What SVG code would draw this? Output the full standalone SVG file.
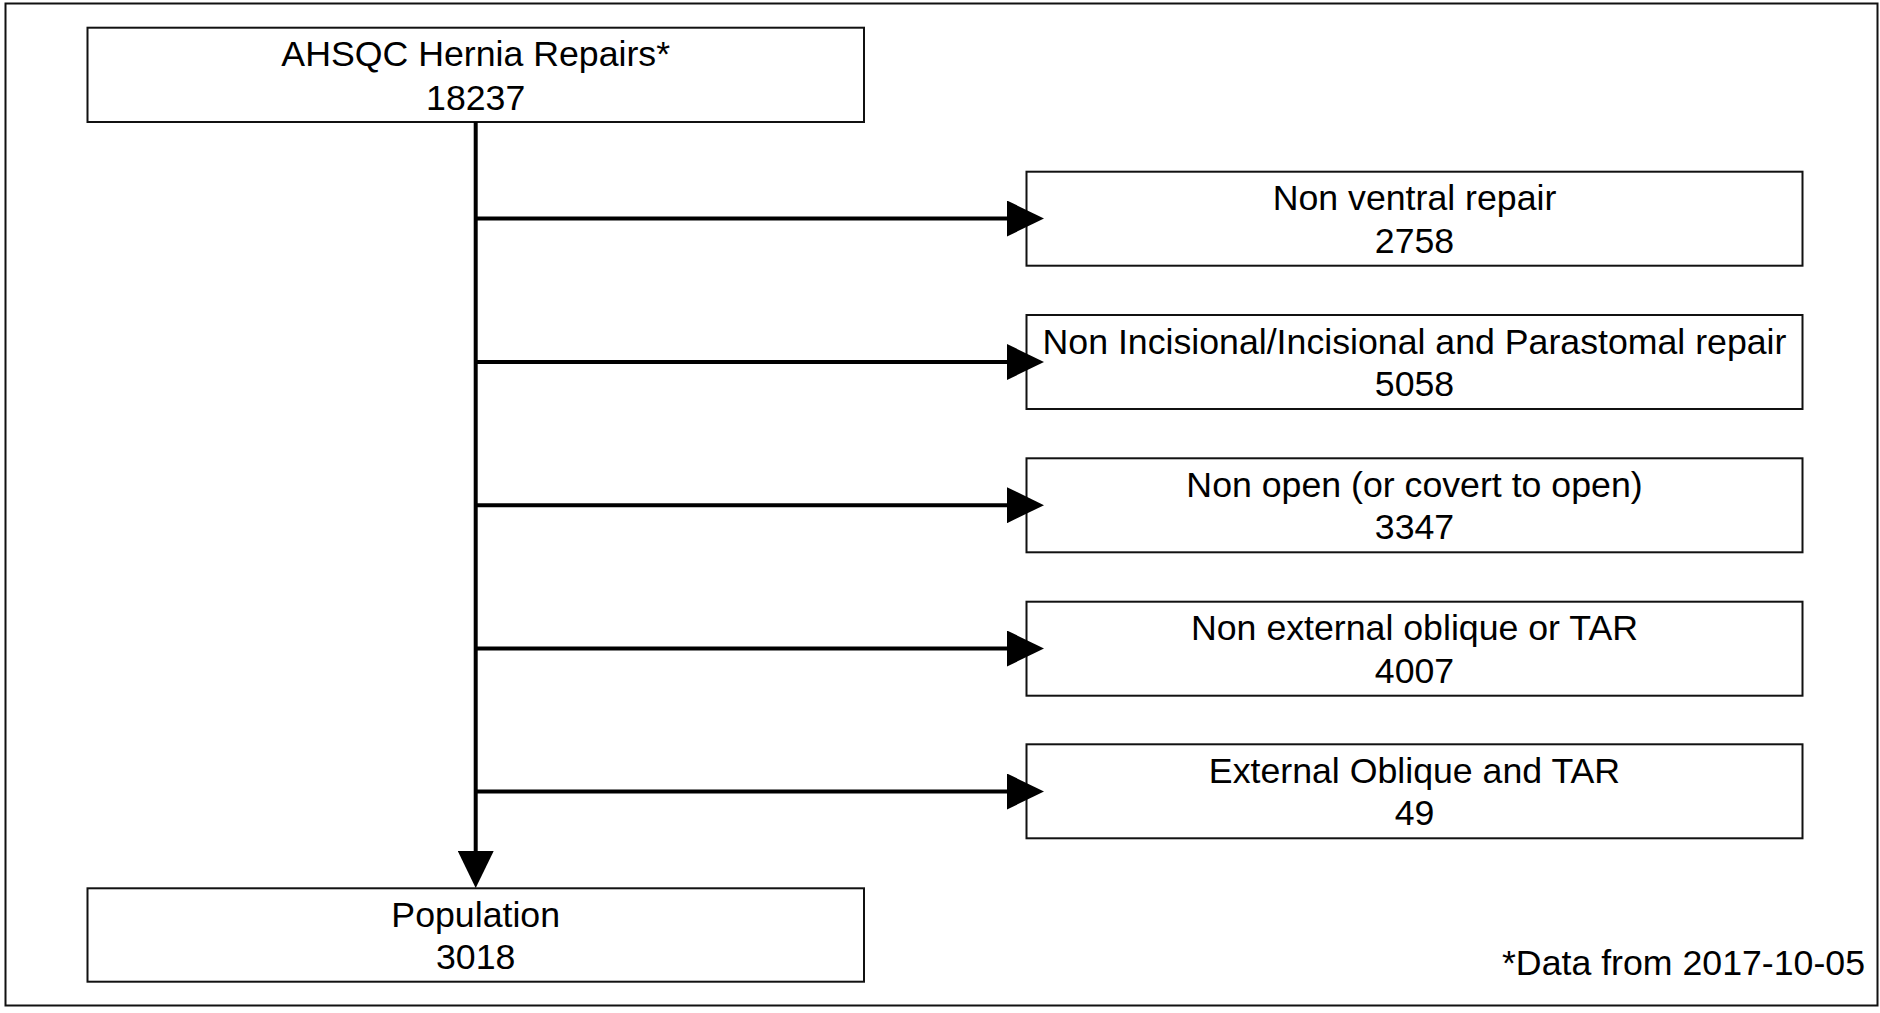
<svg xmlns="http://www.w3.org/2000/svg" width="1880" height="1013" viewBox="0 0 1880 1013">
<style>
.box{fill:#fff;stroke:#111;stroke-width:2}
.t{font-family:"Liberation Sans",Arial,sans-serif;font-size:35.7px;fill:#000;text-anchor:middle}
.c{stroke:#000;stroke-width:4;fill:none}
</style>
<defs>
<marker id="ah" markerUnits="userSpaceOnUse" markerWidth="37" markerHeight="36" refX="0" refY="18" orient="auto" viewBox="0 0 37 36">
<path d="M0,0 L37,18 L0,36 z" fill="#000"/>
</marker>
</defs>
<rect x="5.5" y="3.5" width="1872" height="1002" fill="#fff" stroke="#111" stroke-width="2"/>
<g id="n0">
<rect class="box" x="87.5" y="27.7" width="776.5" height="94.3"/>
<text class="t" x="475.7" y="66">AHSQC Hernia Repairs*</text>
<text class="t" x="475.7" y="110">18237</text>
</g>
<g id="n1">
<rect class="box" x="1026.5" y="171.7" width="776" height="94"/>
<text class="t" x="1414.5" y="210.2">Non ventral repair</text>
<text class="t" x="1414.5" y="252.7">2758</text>
</g>
<g id="n2">
<rect class="box" x="1026.5" y="315" width="776" height="94"/>
<text class="t" x="1414.5" y="353.5">Non Incisional/Incisional and Parastomal repair</text>
<text class="t" x="1414.5" y="396">5058</text>
</g>
<g id="n3">
<rect class="box" x="1026.5" y="458.3" width="776" height="94"/>
<text class="t" x="1414.5" y="496.8">Non open (or covert to open)</text>
<text class="t" x="1414.5" y="539.3">3347</text>
</g>
<g id="n4">
<rect class="box" x="1026.5" y="601.7" width="776" height="94"/>
<text class="t" x="1414.5" y="640.2">Non external oblique or TAR</text>
<text class="t" x="1414.5" y="682.7">4007</text>
</g>
<g id="n5">
<rect class="box" x="1026.5" y="744.3" width="776" height="94"/>
<text class="t" x="1414.5" y="782.8">External Oblique and TAR</text>
<text class="t" x="1414.5" y="825.3">49</text>
</g>
<g id="n6">
<rect class="box" x="87.5" y="888.3" width="776.5" height="93.4"/>
<text class="t" x="475.7" y="927">Population</text>
<text class="t" x="475.7" y="969">3018</text>
</g>
<g id="note">
<text class="t" style="text-anchor:end" x="1865" y="975">*Data from 2017-10-05</text>
</g>
<g id="connectors">
<line class="c" x1="475.7" y1="122" x2="475.7" y2="851" marker-end="url(#ah)"/>
<line class="c" x1="474" y1="218.5" x2="1007" y2="218.5" marker-end="url(#ah)"/>
<line class="c" x1="474" y1="362" x2="1007" y2="362" marker-end="url(#ah)"/>
<line class="c" x1="474" y1="505.2" x2="1007" y2="505.2" marker-end="url(#ah)"/>
<line class="c" x1="474" y1="648.5" x2="1007" y2="648.5" marker-end="url(#ah)"/>
<line class="c" x1="474" y1="791.5" x2="1007" y2="791.5" marker-end="url(#ah)"/>
</g>
</svg>
